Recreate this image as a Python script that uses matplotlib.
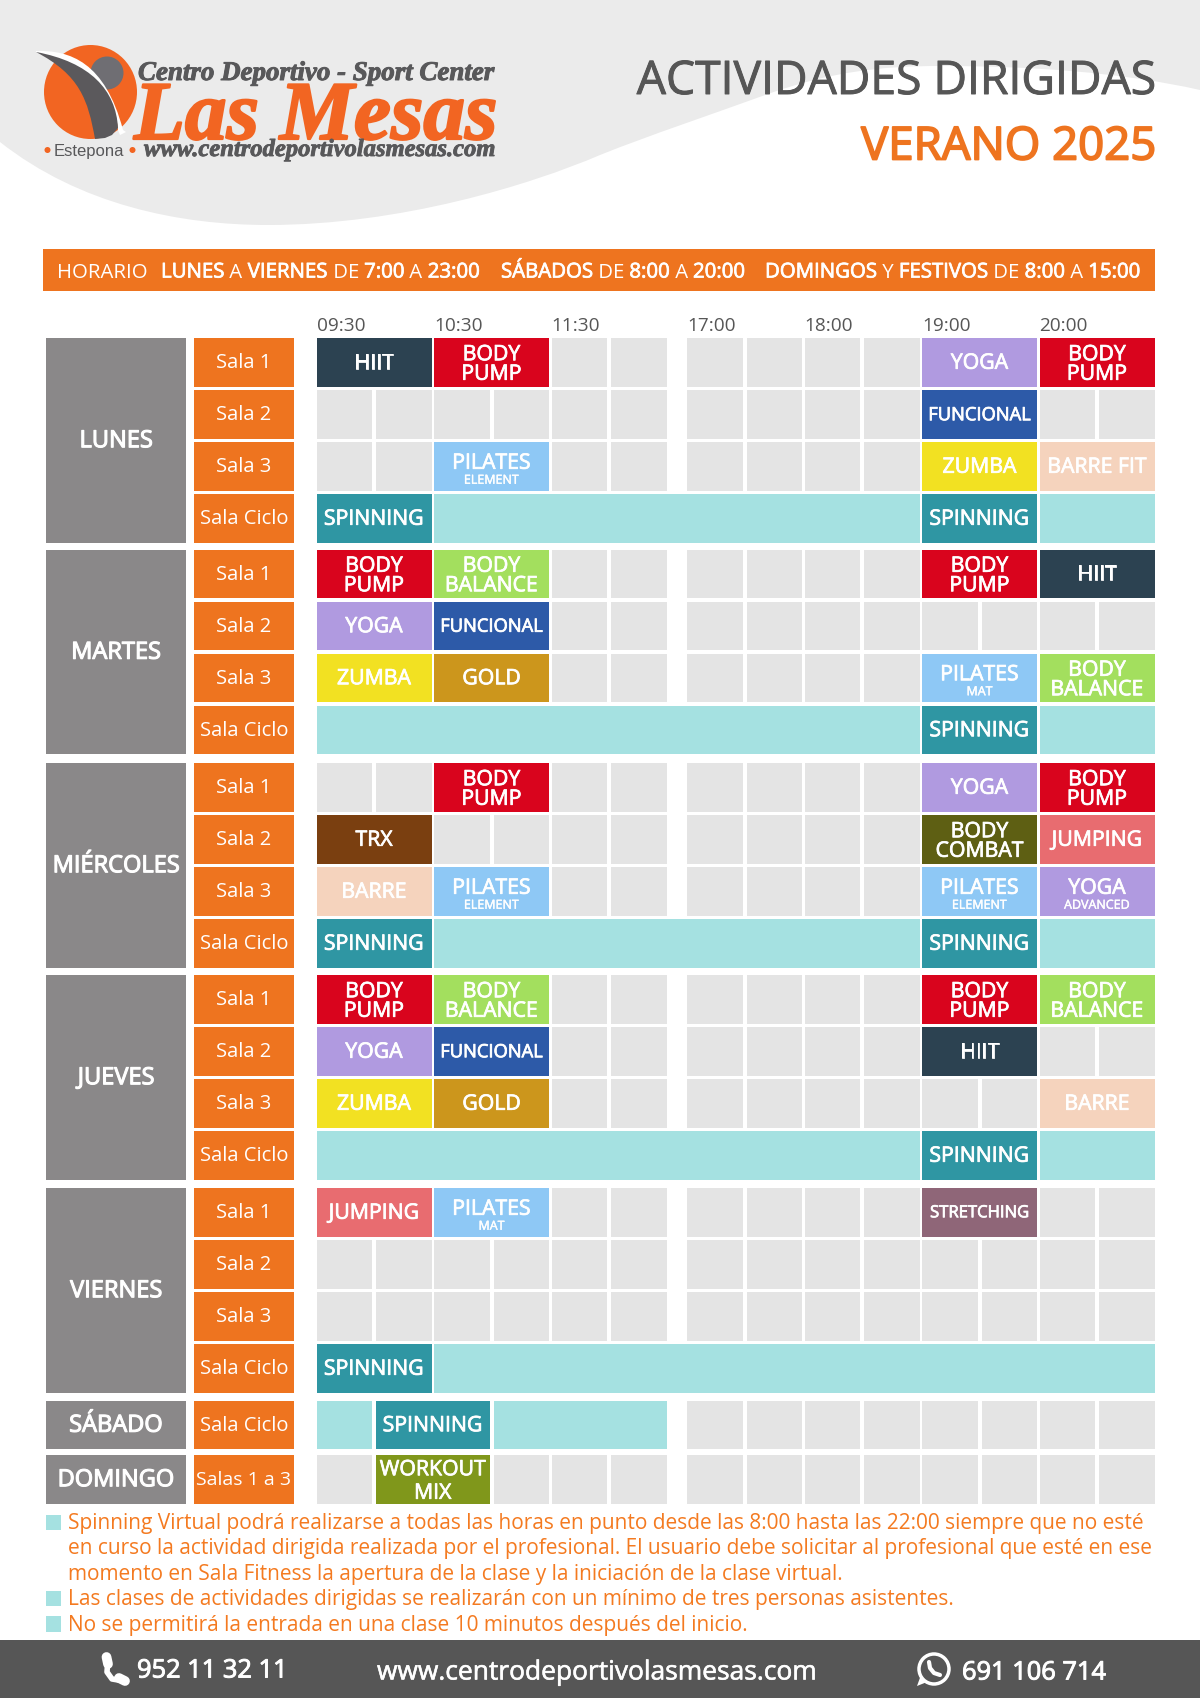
import matplotlib
matplotlib.use('Agg')
import matplotlib.pyplot as plt
import matplotlib.patheffects as pe
from matplotlib.patches import Rectangle, Ellipse, Circle, PathPatch, Polygon
from matplotlib.path import Path

plt.rcParams['font.family'] = ['Open Sans', 'DejaVu Sans']

# schedule, one entry per half hour: 6 in the morning, 8 in the afternoon
_ = ''
V = 'VIRTUAL'
BP = 'BODY\nPUMP'
BB = 'BODY\nBALANCE'
SP = 'SPINNING'
FU = 'FUNCIONAL'
YO = 'YOGA'
HI = 'HIIT'
ZU = 'ZUMBA'
GO = 'GOLD'
PE = 'PILATES|ELEMENT'
PM = 'PILATES|MAT'
BA = 'BARRE'

lunes = [
    [HI, HI, BP, BP, _, _, _, _, _, _, YO, YO, BP, BP],
    [_, _, _, _, _, _, _, _, _, _, FU, FU, _, _],
    [_, _, PE, PE, _, _, _, _, _, _, ZU, ZU, 'BARRE FIT', 'BARRE FIT'],
    [SP, SP, V, V, V, V, V, V, V, V, SP, SP, V, V],
]
martes = [
    [BP, BP, BB, BB, _, _, _, _, _, _, BP, BP, HI, HI],
    [YO, YO, FU, FU, _, _, _, _, _, _, _, _, _, _],
    [ZU, ZU, GO, GO, _, _, _, _, _, _, PM, PM, BB, BB],
    [V, V, V, V, V, V, V, V, V, V, SP, SP, V, V],
]
miercoles = [
    [_, _, BP, BP, _, _, _, _, _, _, YO, YO, BP, BP],
    ['TRX', 'TRX', _, _, _, _, _, _, _, _, 'BODY\nCOMBAT', 'BODY\nCOMBAT', 'JUMPING', 'JUMPING'],
    [BA, BA, PE, PE, _, _, _, _, _, _, PE, PE, 'YOGA|ADVANCED', 'YOGA|ADVANCED'],
    [SP, SP, V, V, V, V, V, V, V, V, SP, SP, V, V],
]
jueves = [
    [BP, BP, BB, BB, _, _, _, _, _, _, BP, BP, BB, BB],
    [YO, YO, FU, FU, _, _, _, _, _, _, HI, HI, _, _],
    [ZU, ZU, GO, GO, _, _, _, _, _, _, _, _, BA, BA],
    [V, V, V, V, V, V, V, V, V, V, SP, SP, V, V],
]
viernes = [
    ['JUMPING', 'JUMPING', PM, PM, _, _, _, _, _, _, 'STRETCHING', 'STRETCHING', _, _],
    [_, _, _, _, _, _, _, _, _, _, _, _, _, _],
    [_, _, _, _, _, _, _, _, _, _, _, _, _, _],
    [SP, SP, V, V, V, V, V, V, V, V, V, V, V, V],
]
sabado = [[V, SP, SP, V, V, V, _, _, _, _, _, _, _, _]]
domingo = [[_, 'WORKOUT\nMIX', 'WORKOUT\nMIX', _, _, _, _, _, _, _, _, _, _, _]]

days = ['LUNES', 'MARTES', 'MIÉRCOLES', 'JUEVES', 'VIERNES', 'SÁBADO', 'DOMINGO']
day_rows = [lunes, martes, miercoles, jueves, viernes, sabado, domingo]
rooms = ['Sala 1', 'Sala 2', 'Sala 3', 'Sala Ciclo']
rooms_sabado = ['Sala Ciclo']
rooms_domingo = ['Salas 1 a 3']
hours = ['09:30', '10:30', '11:30', '17:00', '18:00', '19:00', '20:00']

horario = [
    [('HORARIO', False)],
    [('LUNES', True), (' A ', False), ('VIERNES', True), (' DE ', False),
     ('7:00', True), (' A ', False), ('23:00', True)],
    [('SÁBADOS', True), (' DE ', False), ('8:00', True), (' A ', False), ('20:00', True)],
    [('DOMINGOS', True), (' Y ', False), ('FESTIVOS', True), (' DE ', False),
     ('8:00', True), (' A ', False), ('15:00', True)],
]
notes = [
    ['Spinning Virtual podrá realizarse a todas las horas en punto desde las 8:00 hasta las 22:00 siempre que no esté',
     'en curso la actividad dirigida realizada por el profesional. El usuario debe solicitar al profesional que esté en ese',
     'momento en Sala Fitness la apertura de la clase y la iniciación de la clase virtual.'],
    ['Las clases de actividades dirigidas se realizarán con un mínimo de tres personas asistentes.'],
    ['No se permitirá la entrada en una clase 10 minutos después del inicio.'],
]

ORANGE = '#ee741f'
DARK = '#565656'
GREY_CELL = '#e4e4e4'
LIGHT = '#a5e1e1'
colors = {
    'HIIT': '#2c4251', 'BODY\nPUMP': '#d9041d', 'YOGA': '#b09ae0', 'FUNCIONAL': '#2d5aa8',
    'PILATES': '#8ec8f5', 'ZUMBA': '#f2e122', 'BARRE FIT': '#f5d3bd', 'BARRE': '#f5d3bd',
    'SPINNING': '#2f96a3', 'VIRTUAL': LIGHT, 'BODY\nBALANCE': '#a3df5e', 'GOLD': '#cc961c',
    'TRX': '#7a3f10', 'BODY\nCOMBAT': '#5e5f13', 'JUMPING': '#e86c70', 'STRETCHING': '#8f6678',
    'WORKOUT\nMIX': '#80971b', '': GREY_CELL,
}
label_size = {'FUNCIONAL': 13.2, 'STRETCHING': 12, 'BARRE FIT': 15.3}

# layout in pixels
SLOT_W = 55.5
HOUR_W = 117.5
ROW_H = 48.5
ROW_PITCH = 52
DAY_TOPS = [338, 549.5, 763, 975, 1188, 1400.5, 1455]


def slot_left(i):
    start = 316.5 if i < 6 else 687
    k = i if i < 6 else i - 6
    return start + HOUR_W * (k // 2) + (k % 2) * (SLOT_W + 4)


fig = plt.figure(figsize=(12, 16.98), dpi=100)
ax = fig.add_axes([0, 0, 1, 1])
ax.set_xlim(0, 1200)
ax.set_ylim(1698, 0)
ax.axis('off')


def box(x0, y0, x1, y1, color):
    ax.add_patch(Rectangle((x0, y0), x1 - x0, y1 - y0, fc=color, ec='none'))


def semibold(t, width=0.55):
    # Open Sans only comes in regular and bold here, thicken the regular one
    t.set_path_effects([pe.withStroke(linewidth=width, foreground=t.get_color())])
    return t


def draw_runs(x, y, runs, size):
    r = fig.canvas.get_renderer()
    for s, heavy in runs:
        t = ax.text(x, y, s, color='white', fontsize=size, va='center_baseline', ha='left')
        if heavy:
            semibold(t)
        x += t.get_window_extent(r).width


def label(x, y, s, size, width=0.55):
    return semibold(ax.text(x, y, s, color='white', fontsize=size, ha='center', va='center'), width)


# header swoosh
wave = Path(
    [(0, 0), (0, 142), (80, 205), (180, 225), (268, 225), (400, 225), (530, 185), (600, 155),
     (650, 135), (710, 115), (768, 94), (830, 72), (880, 66), (940, 66), (1030, 66), (1120, 72),
     (1200, 90), (1200, 0), (0, 0)],
    [Path.MOVETO, Path.LINETO] + [Path.CURVE4] * 15 + [Path.LINETO, Path.CLOSEPOLY])
ax.add_patch(PathPatch(wave, fc='#ebebeb', ec='none'))

# logo
LOGO_OR = '#f26522'
LOGO_GR = '#58585a'
ax.add_patch(Ellipse((90.5, 92), 93, 94, fc=LOGO_OR, ec='none'))
ax.add_patch(Circle((107, 73), 16.5, fc='#6f6e73', ec='none'))
white = Path([(36, 51), (70, 50), (105, 62), (123, 130), (126, 132), (120, 135), (118, 130),
              (115, 95), (90, 68), (36, 52)],
             [Path.MOVETO, Path.CURVE4, Path.CURVE4, Path.CURVE4, Path.LINETO, Path.LINETO,
              Path.LINETO, Path.CURVE4, Path.CURVE4, Path.CURVE4])
ax.add_patch(PathPatch(white, fc='white', ec='none'))
body = Path([(36, 52), (80, 75), (88, 100), (95, 139), (105, 138), (112, 135), (118, 128),
             (116, 90), (90, 62), (36, 52)],
            [Path.MOVETO, Path.CURVE4, Path.CURVE4, Path.CURVE4, Path.LINETO, Path.LINETO,
             Path.LINETO, Path.CURVE4, Path.CURVE4, Path.CURVE4])
ax.add_patch(PathPatch(body, fc='#5b595c', ec='none'))
serif = dict(family='Liberation Serif', style='italic', fontweight='bold')
t1 = ax.text(138, 80, 'Centro Deportivo - Sport Center', color=LOGO_GR, fontsize=19.4, ha='left', va='baseline', **serif)
t2 = ax.text(134, 139, 'Las Mesas', color=LOGO_OR, fontsize=60, ha='left', va='baseline', **serif)
t3 = ax.text(144, 156, 'www.centrodeportivolasmesas.com', color=LOGO_GR, fontsize=17.7, ha='left', va='baseline', **serif)
semibold(t1, 0.7)
semibold(t2, 1.6)
semibold(t3, 0.6)
ax.text(54, 156, 'Estepona', color=LOGO_GR, fontsize=12, ha='left', va='baseline', family='Liberation Sans')
ax.add_patch(Circle((47.5, 150), 3, fc=LOGO_OR, ec='none'))
ax.add_patch(Circle((132.5, 150), 3, fc=LOGO_OR, ec='none'))

# title
semibold(ax.text(1157, 94, 'ACTIVIDADES DIRIGIDAS', color=DARK, fontsize=33.3, ha='right', va='baseline'), 0.7)
semibold(ax.text(1156, 159.5, 'VERANO 2025', color=ORANGE, fontsize=32.8, ha='right', va='baseline'), 1.3)

# opening hours bar
box(43, 249, 1155, 290.5, ORANGE)
fig.canvas.draw()
for x, runs in zip([57, 161, 501, 765], horario):
    draw_runs(x, 270, runs, 14.7)

# time labels
for h, txt in enumerate(hours):
    ax.text(slot_left(h * 2), 326, txt, color=DARK, fontsize=13.7, ha='left', va='center')

# grid
room_lists = [rooms, rooms, rooms, rooms, rooms, rooms_sabado, rooms_domingo]
for top, day, rows, room_names in zip(DAY_TOPS, days, day_rows, room_lists):
    n = len(rows)
    bottom = top + ROW_PITCH * (n - 1) + ROW_H
    box(46, top, 186, bottom, '#8a8889')
    label(116, (top + bottom) / 2 + 1, day, 17, 0.8)
    for r, row in enumerate(rows):
        y0 = top + r * ROW_PITCH
        y1 = y0 + ROW_H
        yc = (y0 + y1) / 2 + 1
        box(194, y0, 294, y1, ORANGE)
        ax.text(244, yc, room_names[r], color='white', fontsize=14.5 if len(room_names[r]) < 11 else 14,
                ha='center', va='center')
        i = 0
        while i < len(row):
            name = row[i]
            j = i
            if name:
                while j + 1 < len(row) and row[j + 1] == name:
                    j += 1
            x0 = slot_left(i)
            x1 = slot_left(j) + SLOT_W
            main, _sep, sub = name.partition('|')
            box(x0, y0, x1, y1, colors[main])
            if name and name != V:
                xc = (x0 + x1) / 2
                fs = label_size.get(main, 15.3)
                if sub:
                    label(xc, yc - 4, main, fs)
                    label(xc, yc + 13, sub, 9, 0.3)
                elif '\n' in main:
                    a, b = main.split('\n')
                    if b == 'MIX':
                        label(xc, yc - 10.5, a, fs)
                        label(xc, yc + 13, b, fs)
                    else:
                        label(xc, yc - 8.5, a, fs)
                        label(xc, yc + 11, b, fs)
                else:
                    label(xc, yc, main, fs)
            i = j + 1

# notes
y = 1523.5
for block in notes:
    box(46, y - 9, 61, y + 6.5, LIGHT)
    for line in block:
        ax.text(67.5, y, line, color='#f47a20', fontsize=15.03, ha='left', va='center')
        y += 25.4

# footer
box(0, 1640, 1200, 1698, DARK)
ax.plot([108, 107, 112, 124], [1658, 1672, 1679, 1681], color='white', lw=4, solid_capstyle='round')
ax.plot([106.5, 108], [1657, 1664], color='white', lw=7, solid_capstyle='round')
ax.plot([119, 125], [1678, 1681], color='white', lw=7, solid_capstyle='round')
semibold(ax.text(137, 1671, '952 11 32 11', color='white', fontsize=18.3, ha='left', va='center'), 0.7)
semibold(ax.text(377, 1673, 'www.centrodeportivolasmesas.com', color='white', fontsize=19, ha='left', va='center'), 0.4)
ax.add_patch(Circle((934, 1669), 15, fc='none', ec='white', lw=2.5))
ax.add_patch(Polygon([(917, 1686), (921, 1675), (927, 1682)], fc='white', ec='none'))
ax.plot([929, 930, 934, 940], [1662, 1668, 1673, 1675], color='white', lw=3, solid_capstyle='round')
semibold(ax.text(962, 1673, '691 106 714', color='white', fontsize=18.3, ha='left', va='center'), 0.7)

fig.savefig('out.png', dpi=100)
